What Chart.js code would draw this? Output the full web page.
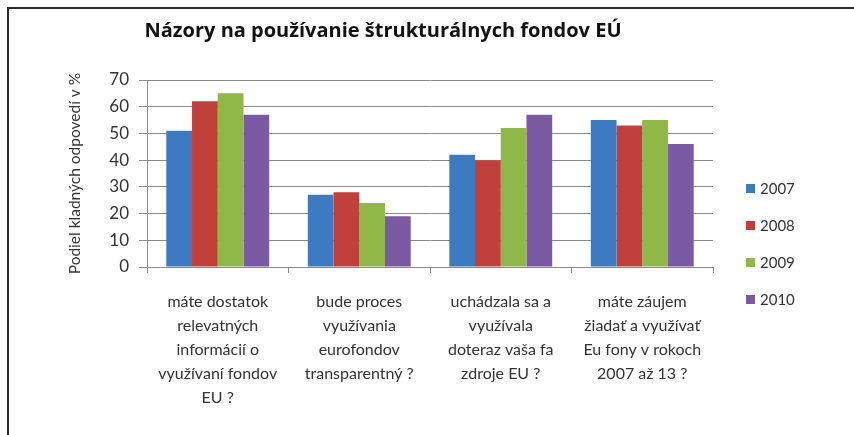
<!DOCTYPE html>
<html>
<head>
<meta charset="utf-8">
<script src="https://cdn.jsdelivr.net/npm/chart.js@4/dist/chart.umd.min.js"></script>
<style>
  html, body { margin: 0; padding: 0; background: #fff; }
  #wrap { position: relative; width: 854px; height: 435px; overflow: hidden; }
  #frame { position: absolute; left: 7px; top: 7px; right: -10px; bottom: -10px; border-left: 2px solid #2b2b2b; border-top: 2px solid #2b2b2b; pointer-events: none; }
  #legend { position: absolute; left: 746px; top: 0; font-family: Lato, "Open Sans", sans-serif; font-size: 15px; color: #333; }
  .item { position: absolute; left: 0; white-space: nowrap; height: 18px; line-height: 18px; }
  .sw { position: absolute; left: 0; top: 5px; width: 9px; height: 9px; }
  .lt { position: absolute; left: 14px; top: 0; }
</style>
</head>
<body>
<div id="wrap">
  <canvas id="c" width="854" height="435"></canvas>
  <div id="frame"></div>
  <div id="legend"></div>
</div>
<script>
const chartTitle = 'Názory na používanie štrukturálnych fondov EÚ';
const yAxisTitle = 'Podiel kladných odpovedí v %';
const categories = [
  ['máte dostatok', 'relevatných', 'informácií o', 'využívaní fondov', 'EU ?'],
  ['bude proces', 'využívania', 'eurofondov', 'transparentný ?'],
  ['uchádzala sa a', 'využívala', 'doteraz vaša fa', 'zdroje EU ?'],
  ['máte záujem', 'žiadať a využívať', 'Eu fony v rokoch', '2007 až 13 ?']
];
const seriesNames = ['2007', '2008', '2009', '2010'];
const values2007 = [51, 27, 42, 55];
const values2008 = [62, 28, 40, 53];
const values2009 = [65, 24, 52, 55];
const values2010 = [57, 19, 57, 46];
const seriesColors = ['#3D7AC2', '#C0403C', '#8FB849', '#7A5AA3'];
const yMin = 0, yMax = 70, yStep = 10;

const seriesValues = [values2007, values2008, values2009, values2010];
const FONT = 'Lato, "Open Sans", sans-serif';

const titlePlugin = {
  id: 'fixedTitle',
  afterDraw(chart) {
    const ctx = chart.ctx;
    ctx.save();
    ctx.font = 'bold 20px "Open Sans", sans-serif';
    ctx.fillStyle = '#111';
    ctx.textAlign = 'center';
    ctx.textBaseline = 'middle';
    ctx.fillText(chartTitle, 383, 31);
    ctx.restore();
  }
};

const chart = new Chart(document.getElementById('c'), {
  type: 'bar',
  data: {
    labels: categories,
    datasets: seriesNames.map((n, i) => ({
      label: n,
      data: seriesValues[i],
      backgroundColor: seriesColors[i],
      borderWidth: 0,
      categoryPercentage: 4 / 5.5,
      barPercentage: 1.0
    }))
  },
  options: {
    responsive: false,
    animation: false,
    devicePixelRatio: 1,
    layout: { padding: { top: 80, right: 141, bottom: 0, left: 0 } },
    plugins: {
      legend: { display: false },
      title: { display: false },
      tooltip: { enabled: false }
    },
    scales: {
      x: {
        grid: { display: true, drawOnChartArea: false, drawTicks: true, tickLength: 6, color: '#8a8a8a', offset: true },
        border: { display: true, color: '#8a8a8a', width: 1 },
        ticks: { color: '#333', font: { family: FONT, size: 16, lineHeight: 1.5 }, padding: 17, maxRotation: 0, autoSkip: false },
        afterFit(scale) { scale.height = 168; }
      },
      y: {
        min: yMin, max: yMax,
        ticks: { stepSize: yStep, color: '#333', font: { family: FONT, size: 17 }, padding: 10 },
        grid: { color: '#8a8a8a', lineWidth: 1, tickLength: 8, drawTicks: true },
        border: { display: true, color: '#8a8a8a', width: 1 },
        title: { display: true, text: yAxisTitle, color: '#333', font: { family: FONT, size: 15.5 }, padding: { top: 66, bottom: 0 } },
        afterFit(scale) { scale.width = 147; }
      }
    }
  },
  plugins: [titlePlugin]
});

const legendEl = document.getElementById('legend');
const legendTops = [188, 225, 262, 299];
chart.data.datasets.forEach((ds, i) => {
  const it = document.createElement('div');
  it.className = 'item';
  it.style.top = (legendTops[i] - 9) + 'px';
  const sw = document.createElement('span');
  sw.className = 'sw';
  sw.style.background = ds.backgroundColor;
  const lt = document.createElement('span');
  lt.className = 'lt';
  lt.textContent = ds.label;
  it.appendChild(sw); it.appendChild(lt);
  legendEl.appendChild(it);
});
</script>
</body>
</html>
